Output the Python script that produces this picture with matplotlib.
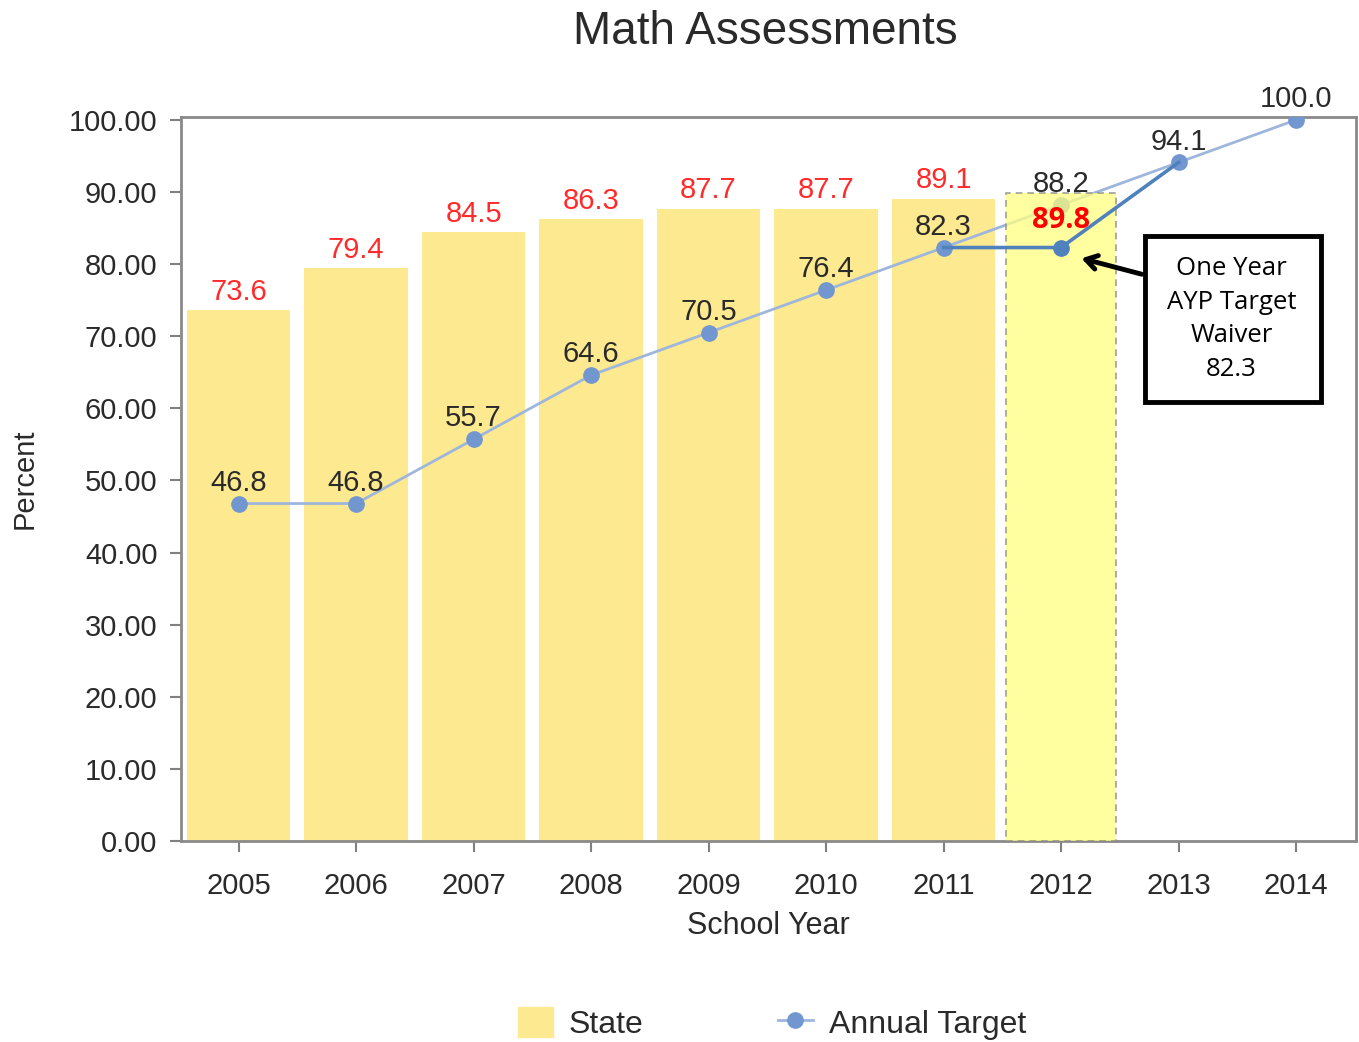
import matplotlib
matplotlib.use("Agg")
import matplotlib.pyplot as plt
from matplotlib.patches import Rectangle, Patch
from matplotlib.lines import Line2D

years = ["2005", "2006", "2007", "2008", "2009", "2010", "2011", "2012", "2013", "2014"]
state = [73.6, 79.4, 84.5, 86.3, 87.7, 87.7, 89.1, 89.8]
target = [46.8, 46.8, 55.7, 64.6, 70.5, 76.4, 82.3, 88.2, 94.1, 100.0]
waiver_years = ["2011", "2012", "2013"]
waiver = [82.3, 82.3, 94.1]
yticks = [0, 10, 20, 30, 40, 50, 60, 70, 80, 90, 100]

plt.rcParams['font.family'] = ['Liberation Sans', 'DejaVu Sans']

fig = plt.figure(figsize=(13.59, 10.42), dpi=100)
ax = fig.add_axes([0.1332, 0.1929, 0.8646, 0.6948])

bar_c = "#fde98f"
hi_c = "#ffff80"
line_c = "#9fb6dc"
mark_c = "#7196d0"
waiver_c = "#4f81bd"
txt_c = "#2a2a2a"

xs = list(range(len(years)))
idx = {y: i for i, y in enumerate(years)}

# regular bars
ax.bar(xs[:7], state[:7], width=0.88, color=bar_c, zorder=2)

# annual target line
ax.plot(xs, target, color=line_c, lw=2, marker="o", ms=11, mfc=mark_c, mec=mark_c, zorder=3)

# highlighted 2012 bar (semi transparent over the line)
ax.bar([xs[7]], [state[7]], width=0.94, color=hi_c, alpha=0.75, edgecolor="#808080",
       linestyle=(0, (4, 3)), linewidth=1.2, zorder=4)

# waiver line
wx = [idx[y] for y in waiver_years]
ax.plot(wx, waiver, color=waiver_c, lw=2.6, zorder=5)
ax.plot(wx[1], waiver[1], marker="o", ms=11, color=waiver_c, zorder=6)

# labels
for i, v in enumerate(state[:7]):
    ax.annotate(f"{v:.1f}", (xs[i], v), xytext=(0, 3), textcoords="offset points",
                ha="center", va="bottom", color="#ff2a2a", fontsize=21, zorder=7)
ax.annotate(f"{state[7]:.1f}", (xs[7], state[7]), xytext=(0, -9), textcoords="offset points",
            ha="center", va="top", color="#ff0000", fontsize=21, fontweight="bold",
            family=["Open Sans", "DejaVu Sans"], zorder=7)
for i, v in enumerate(target):
    ax.annotate(f"{v:.1f}", (xs[i], v), xytext=(0, 5), textcoords="offset points",
                ha="center", va="bottom", color=txt_c, fontsize=21, zorder=7)

# annotation box
ax.add_patch(Rectangle((7.71, 60.9), 1.5, 23.0, facecolor="white", edgecolor="black",
                       linewidth=3.5, zorder=8, clip_on=False))
ax.text(8.45, 72.4, "One Year\nAYP Target\nWaiver\n82.3", ha="center", va="center",
        fontsize=18.5, linespacing=1.45, family=["Open Sans", "DejaVu Sans"], zorder=9)
ax.annotate("", xy=(7.15, 80.9), xytext=(7.71, 78.5),
            arrowprops=dict(arrowstyle="->,head_length=0.8,head_width=0.5", lw=3.5, color="black"),
            zorder=9)

ax.set_xlim(-0.49, 9.51)
ax.set_ylim(0, 100.4)
ax.set_xticks(xs)
ax.set_xticklabels(years)
ax.set_yticks(yticks)
ax.set_yticklabels([f"{t:.2f}" for t in yticks])
ax.tick_params(axis="both", labelsize=21, colors="#808080", labelcolor=txt_c, length=8, width=1.5)
ax.tick_params(axis="x", pad=14)
ax.tick_params(axis="y", pad=9)
for s in ax.spines.values():
    s.set_color("#8a8a8a")
    s.set_linewidth(2)

ax.set_xlabel("School Year", fontsize=22, color=txt_c, labelpad=8)
ax.set_ylabel("Percent", fontsize=21, color=txt_c, labelpad=22)
fig.suptitle("Math Assessments", fontsize=33, color=txt_c, x=0.563, y=0.99, va="top")

handles = [Patch(color=bar_c),
           Line2D([0], [0], color=line_c, lw=2, marker="o", ms=11, mfc=mark_c, mec=mark_c)]
fig.legend(handles, ["State", "Annual Target"], loc="center", bbox_to_anchor=(0.568, 0.018),
           ncol=2, frameon=False, fontsize=23, columnspacing=4.2, handlelength=1.1,
           handleheight=1.1, handletextpad=0.5, labelcolor=txt_c)

fig.savefig("out.png", dpi=100)
